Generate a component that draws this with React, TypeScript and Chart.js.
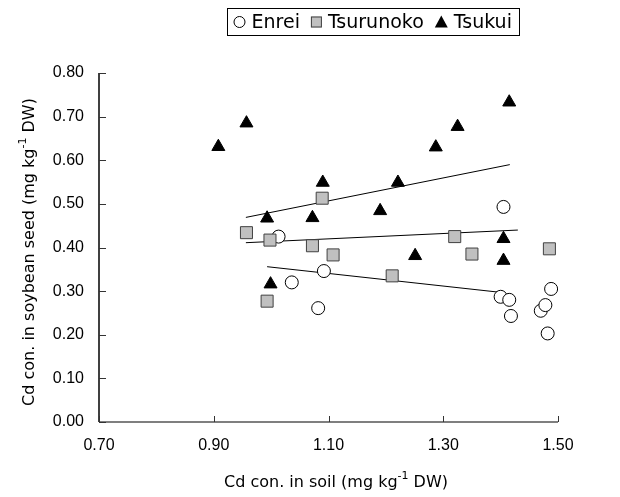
import React, { useEffect, useRef } from "react";
import { Chart, registerables } from "chart.js";
Chart.register(...registerables);

// ---- data ----
const enreiSoil = [1.013, 1.036, 1.082, 1.092, 1.405, 1.400, 1.415, 1.418, 1.470, 1.478, 1.488, 1.482];
const enreiSeed = [0.425, 0.320, 0.261, 0.346, 0.493, 0.287, 0.280, 0.243, 0.255, 0.268, 0.305, 0.203];

const tsurunokoSoil = [0.957, 0.998, 0.993, 1.072, 1.089, 1.108, 1.211, 1.320, 1.350, 1.485];
const tsurunokoSeed = [0.434, 0.417, 0.277, 0.404, 0.513, 0.383, 0.335, 0.425, 0.385, 0.397];

const tsukuiSoil = [0.908, 0.957, 0.993, 0.999, 1.072, 1.090, 1.190, 1.221, 1.251, 1.287, 1.325, 1.415, 1.405, 1.405];
const tsukuiSeed = [0.631, 0.685, 0.467, 0.316, 0.468, 0.549, 0.484, 0.549, 0.381, 0.630, 0.677, 0.733, 0.420, 0.370];

// trend lines (endpoints)
const enreiFitX = [0.993, 1.408];
const enreiFitY = [0.356, 0.296];
const tsurunokoFitX = [0.956, 1.43];
const tsurunokoFitY = [0.411, 0.440];
const tsukuiFitX = [0.956, 1.416];
const tsukuiFitY = [0.469, 0.590];

const xTickValues = [0.7, 0.9, 1.1, 1.3, 1.5];
const yTickValues = [0, 0.1, 0.2, 0.3, 0.4, 0.5, 0.6, 0.7, 0.8];

const seriesNames = ["Enrei", "Tsurunoko", "Tsukui"];
const xTitle = ["Cd con. in soil (mg kg", "-1", " DW)"];
const yTitle = ["Cd con. in soybean seed (mg kg", "-1", " DW)"];

const FONT = "'Liberation Sans', Arial, sans-serif";
const TFONT = "'DejaVu Sans', sans-serif";

const pts = (xs: number[], ys: number[]) => xs.map((x, i) => ({ x, y: ys[i] }));

function drawSupText(ctx: CanvasRenderingContext2D, parts: string[], cx: number, cy: number, size: number) {
  const main = `${size}px ${TFONT}`;
  const sup = `${Math.round(size * 0.68)}px ${TFONT}`;
  ctx.font = main;
  const w0 = ctx.measureText(parts[0]).width;
  const w2 = ctx.measureText(parts[2]).width;
  ctx.font = sup;
  const w1 = ctx.measureText(parts[1]).width;
  const total = w0 + w1 + w2;
  let x = cx - total / 2;
  ctx.textBaseline = "middle";
  ctx.textAlign = "left";
  ctx.font = main;
  ctx.fillText(parts[0], x, cy);
  x += w0;
  ctx.font = sup;
  ctx.fillText(parts[1], x, cy - size * 0.4);
  x += w1;
  ctx.font = main;
  ctx.fillText(parts[2], x, cy);
}

const decor = {
  id: "decor",
  afterDraw(chart: any) {
    const ctx: CanvasRenderingContext2D = chart.ctx;
    const { left, right, top, bottom } = chart.chartArea;
    const xs = chart.scales.x;
    const ys = chart.scales.y;
    ctx.save();
    // axis lines
    ctx.strokeStyle = "#000";
    ctx.lineWidth = 1.5;
    ctx.beginPath();
    ctx.moveTo(left, top);
    ctx.lineTo(left, bottom);
    ctx.stroke();
    ctx.strokeStyle = "#555";
    ctx.beginPath();
    ctx.moveTo(left, bottom);
    ctx.lineTo(right, bottom);
    ctx.stroke();
    // inside tick marks
    ctx.lineWidth = 1;
    ctx.strokeStyle = "#333";
    for (const v of yTickValues) {
      const y = Math.round(ys.getPixelForValue(v)) + 0.5;
      ctx.beginPath();
      ctx.moveTo(left, y);
      ctx.lineTo(left + 7, y);
      ctx.stroke();
    }
    for (const v of xTickValues) {
      const x = Math.round(xs.getPixelForValue(v)) + 0.5;
      ctx.beginPath();
      ctx.moveTo(x, bottom);
      ctx.lineTo(x, bottom - 6);
      ctx.stroke();
    }
    // titles
    ctx.fillStyle = "#000";
    drawSupText(ctx, xTitle, 336, 483, 16);
    ctx.save();
    ctx.translate(30, 252);
    ctx.rotate(-Math.PI / 2);
    drawSupText(ctx, yTitle, 0, 0, 16);
    ctx.restore();

    // legend
    ctx.font = `19px ${TFONT}`;
    const wE = ctx.measureText(seriesNames[0]).width;
    const wS = ctx.measureText(seriesNames[1]).width;
    const wK = ctx.measureText(seriesNames[2]).width;
    const total = 6 + 12 + 6 + wE + 11 + 11 + 6 + wS + 11 + 13 + 6 + wK + 8;
    const boxL = Math.round(373 - total / 2) + 0.5;
    const boxT = 8.5, boxB = 35.5;
    const cy = (boxT + boxB) / 2;
    let x = boxL + 6;
    ctx.textBaseline = "middle";
    ctx.textAlign = "left";
    // circle
    ctx.lineWidth = 1;
    ctx.strokeStyle = "#000";
    ctx.fillStyle = "#fff";
    ctx.beginPath();
    ctx.arc(x + 6, cy, 5.5, 0, Math.PI * 2);
    ctx.fill();
    ctx.stroke();
    x += 12 + 6;
    ctx.fillStyle = "#000";
    ctx.fillText(seriesNames[0], x, cy + 1);
    x += wE + 11;
    // square
    ctx.fillStyle = "#c0c0c0";
    ctx.strokeStyle = "#404040";
    ctx.fillRect(x, cy - 5.5, 11, 11);
    ctx.strokeRect(x + 0.5, cy - 5, 10, 10);
    x += 11 + 6;
    ctx.fillStyle = "#000";
    ctx.fillText(seriesNames[1], x, cy + 1);
    x += wS + 11;
    // triangle
    ctx.beginPath();
    ctx.moveTo(x + 6.5, cy - 6.5);
    ctx.lineTo(x + 13, cy + 5.5);
    ctx.lineTo(x, cy + 5.5);
    ctx.closePath();
    ctx.fill();
    x += 13 + 6;
    ctx.fillText(seriesNames[2], x, cy + 1);
    x += wK + 8;
    ctx.strokeStyle = "#000";
    ctx.lineWidth = 1;
    ctx.strokeRect(boxL, boxT, Math.round(x - boxL), boxB - boxT);
    ctx.restore();
  },
};

export default function App() {
  const ref = useRef<HTMLCanvasElement>(null);
  useEffect(() => {
    const canvas = ref.current;
    if (!canvas) return;
    const lineDs = (xs: number[], ys: number[]) => ({
      type: "line" as const,
      data: pts(xs, ys),
      borderColor: "#000",
      borderWidth: 1,
      pointRadius: 0,
      fill: false,
      showLine: true,
      order: 10,
    });
    const chart = new Chart(canvas, {
      type: "scatter",
      data: {
        datasets: [
          lineDs(enreiFitX, enreiFitY),
          lineDs(tsurunokoFitX, tsurunokoFitY),
          lineDs(tsukuiFitX, tsukuiFitY),
          {
            label: seriesNames[0],
            data: pts(enreiSoil, enreiSeed),
            pointStyle: "circle",
            pointRadius: 6.5,
            backgroundColor: "#fff",
            borderColor: "#000",
            borderWidth: 1,
            order: 3,
          },
          {
            label: seriesNames[1],
            data: pts(tsurunokoSoil, tsurunokoSeed),
            pointStyle: "rect",
            pointRadius: 8.5,
            backgroundColor: "#c0c0c0",
            borderColor: "#404040",
            borderWidth: 1,
            order: 2,
          },
          {
            label: seriesNames[2],
            data: pts(tsukuiSoil, tsukuiSeed),
            pointStyle: "triangle",
            pointRadius: 7.5,
            backgroundColor: "#000",
            borderColor: "#000",
            borderWidth: 1,
            order: 1,
          },
        ],
      },
      options: {
        animation: false,
        responsive: false,
        maintainAspectRatio: false,
        layout: { padding: { left: 0, right: 62, top: 73, bottom: 0 } },
        plugins: { legend: { display: false }, tooltip: { enabled: false } },
        scales: {
          x: {
            type: "linear",
            min: 0.7,
            max: 1.5,
            grid: { display: false, drawTicks: false },
            border: { display: false },
            afterBuildTicks: (s: any) => {
              s.ticks = xTickValues.map((v) => ({ value: v }));
            },
            afterFit: (s: any) => {
              s.height = 75;
            },
            ticks: {
              autoSkip: false,
              maxRotation: 0,
              padding: 14,
              color: "#000",
              font: { family: FONT, size: 16 },
              callback: (v: any) => Number(v).toFixed(2),
            },
          },
          y: {
            type: "linear",
            min: 0,
            max: 0.8,
            grid: { display: false, drawTicks: false },
            border: { display: false },
            afterBuildTicks: (s: any) => {
              s.ticks = yTickValues.map((v) => ({ value: v }));
            },
            afterFit: (s: any) => {
              s.width = 99;
            },
            ticks: {
              autoSkip: false,
              padding: 15,
              color: "#000",
              font: { family: FONT, size: 16 },
              callback: (v: any) => Number(v).toFixed(2),
            },
          },
        },
      },
      plugins: [decor],
    });
    return () => chart.destroy();
  }, []);
  return (
    <div style={{ position: "absolute", left: 0, top: 0, width: 620, height: 497 }}>
      <canvas ref={ref} width={620} height={497} style={{ width: 620, height: 497 }} />
    </div>
  );
}
